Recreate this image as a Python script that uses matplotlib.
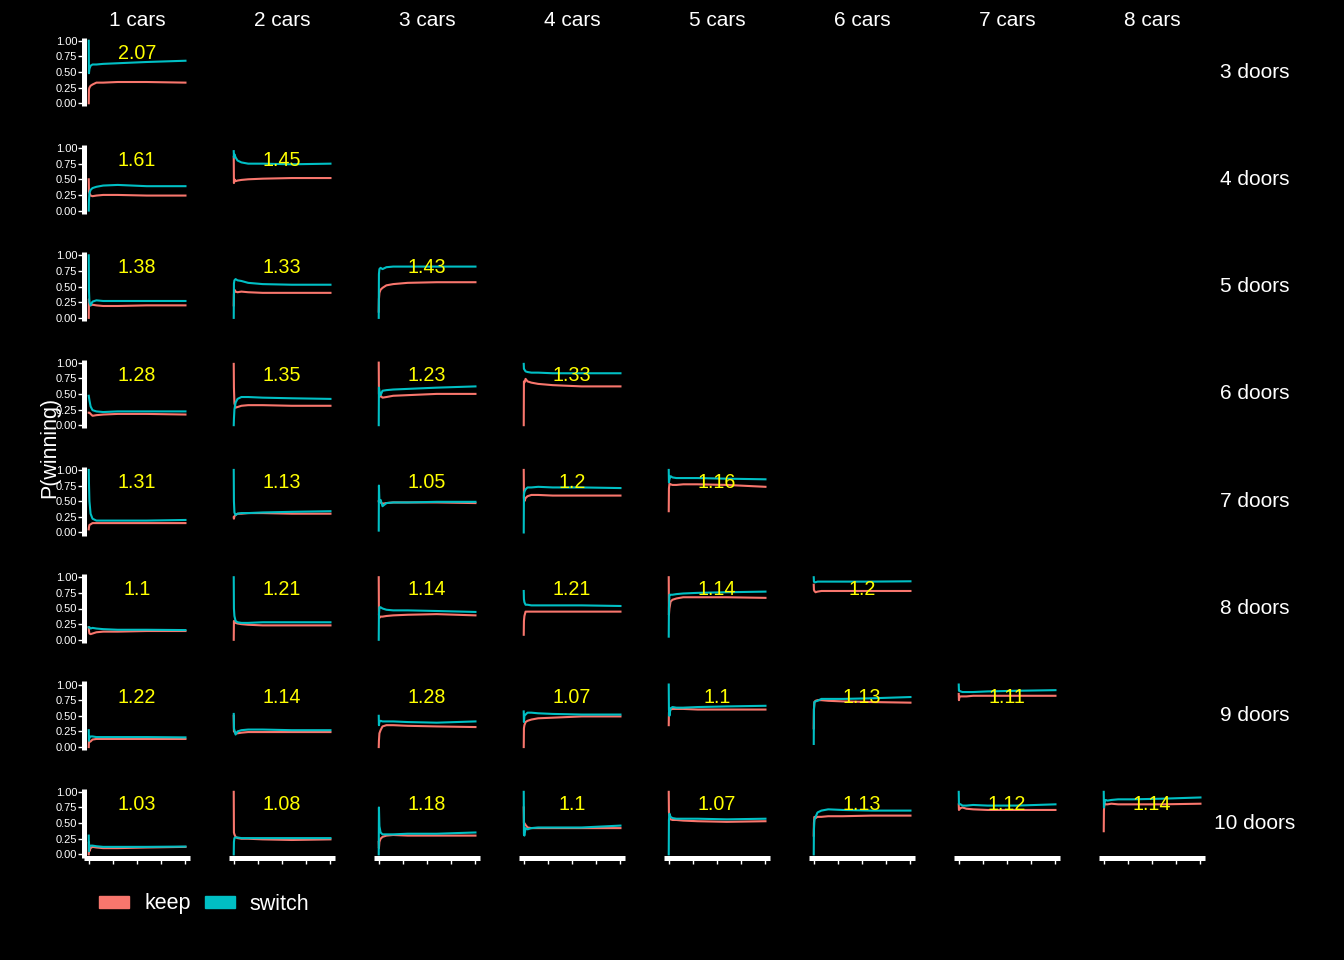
import matplotlib
matplotlib.use("Agg")
import matplotlib.pyplot as plt
from matplotlib.patches import Patch

plt.rcParams['font.family'] = ['Liberation Sans', 'DejaVu Sans']

# running share of wins, read at these trial numbers
TRIALS = [1, 3, 8, 20, 40, 80, 150, 300, 600, 1000]
DOORS = [3, 4, 5, 6, 7, 8, 9, 10]
CARS = [1, 2, 3, 4, 5, 6, 7, 8]
KEEP_COLOR = '#F8766D'
SWITCH_COLOR = '#00BFC4'

# ratio switch / keep, one per panel (cars = 1 .. doors-2)
ratio_3 = [2.07]
ratio_4 = [1.61, 1.45]
ratio_5 = [1.38, 1.33, 1.43]
ratio_6 = [1.28, 1.35, 1.23, 1.33]
ratio_7 = [1.31, 1.13, 1.05, 1.2, 1.16]
ratio_8 = [1.1, 1.21, 1.14, 1.21, 1.14, 1.2]
ratio_9 = [1.22, 1.14, 1.28, 1.07, 1.1, 1.13, 1.11]
ratio_10 = [1.03, 1.08, 1.18, 1.1, 1.07, 1.13, 1.12, 1.14]

keep_3 = [[0.0, 0.22, 0.25, 0.28, 0.30, 0.33, 0.33, 0.34, 0.34, 0.33]]
switch_3 = [[1.0, 0.48, 0.55, 0.60, 0.62, 0.62, 0.63, 0.64, 0.66, 0.68]]

keep_4 = [[0.50, 0.30, 0.28, 0.24, 0.23, 0.24, 0.25, 0.25, 0.24, 0.24],
          [0.86, 0.44, 0.50, 0.47, 0.48, 0.49, 0.50, 0.51, 0.52, 0.52]]
switch_4 = [[0.0, 0.15, 0.28, 0.33, 0.36, 0.38, 0.40, 0.41, 0.39, 0.39],
            [0.95, 0.85, 0.90, 0.85, 0.80, 0.77, 0.75, 0.75, 0.74, 0.75]]

keep_5 = [[0.0, 0.30, 0.22, 0.20, 0.21, 0.20, 0.19, 0.19, 0.20, 0.20],
          [0.20, 0.38, 0.45, 0.42, 0.41, 0.42, 0.41, 0.40, 0.40, 0.40],
          [0.10, 0.30, 0.40, 0.45, 0.48, 0.52, 0.54, 0.56, 0.57, 0.57]]
switch_5 = [[1.0, 0.45, 0.25, 0.20, 0.26, 0.28, 0.27, 0.27, 0.27, 0.27],
            [0.0, 0.55, 0.60, 0.62, 0.60, 0.59, 0.56, 0.54, 0.53, 0.53],
            [0.0, 0.70, 0.78, 0.80, 0.78, 0.81, 0.82, 0.82, 0.82, 0.82]]

keep_6 = [[0.20, 0.20, 0.20, 0.18, 0.15, 0.16, 0.17, 0.18, 0.18, 0.17],
          [0.98, 0.60, 0.35, 0.28, 0.29, 0.31, 0.32, 0.32, 0.31, 0.31],
          [1.0, 0.50, 0.45, 0.47, 0.44, 0.45, 0.47, 0.48, 0.50, 0.50],
          [0.0, 0.70, 0.68, 0.74, 0.70, 0.68, 0.66, 0.64, 0.62, 0.62]]
switch_6 = [[0.47, 0.45, 0.40, 0.30, 0.24, 0.22, 0.21, 0.22, 0.22, 0.22],
            [0.0, 0.10, 0.25, 0.36, 0.42, 0.45, 0.45, 0.44, 0.43, 0.42],
            [0.0, 0.60, 0.55, 0.48, 0.55, 0.56, 0.57, 0.58, 0.60, 0.62],
            [0.98, 0.90, 0.89, 0.86, 0.85, 0.84, 0.84, 0.83, 0.83, 0.83]]

keep_7 = [[0.05, 0.08, 0.12, 0.13, 0.15, 0.15, 0.15, 0.15, 0.15, 0.15],
          [0.24, 0.22, 0.26, 0.28, 0.30, 0.30, 0.31, 0.31, 0.30, 0.30],
          [0.50, 0.50, 0.50, 0.48, 0.46, 0.47, 0.48, 0.48, 0.48, 0.47],
          [1.0, 0.55, 0.50, 0.55, 0.58, 0.60, 0.60, 0.59, 0.59, 0.59],
          [0.34, 0.70, 0.78, 0.77, 0.76, 0.76, 0.77, 0.77, 0.76, 0.73]]
switch_7 = [[1.0, 0.80, 0.50, 0.30, 0.22, 0.19, 0.19, 0.19, 0.19, 0.20],
            [1.0, 0.50, 0.32, 0.28, 0.30, 0.31, 0.31, 0.32, 0.33, 0.34],
            [0.03, 0.75, 0.50, 0.52, 0.42, 0.47, 0.48, 0.48, 0.49, 0.49],
            [0.0, 0.60, 0.65, 0.69, 0.72, 0.72, 0.73, 0.72, 0.72, 0.71],
            [1.0, 0.80, 0.85, 0.90, 0.88, 0.87, 0.87, 0.87, 0.86, 0.85]]

keep_8 = [[0.20, 0.15, 0.10, 0.09, 0.10, 0.12, 0.13, 0.13, 0.14, 0.14],
          [0.0, 0.30, 0.30, 0.27, 0.26, 0.25, 0.24, 0.23, 0.23, 0.23],
          [1.0, 0.40, 0.35, 0.37, 0.37, 0.38, 0.39, 0.40, 0.41, 0.39],
          [0.08, 0.30, 0.38, 0.45, 0.45, 0.45, 0.45, 0.45, 0.45, 0.45],
          [1.0, 0.40, 0.50, 0.61, 0.64, 0.66, 0.68, 0.68, 0.68, 0.67],
          [0.88, 0.80, 0.78, 0.76, 0.77, 0.78, 0.78, 0.78, 0.78, 0.78]]
switch_8 = [[0.20, 0.20, 0.20, 0.18, 0.19, 0.18, 0.17, 0.16, 0.16, 0.155],
            [1.0, 0.50, 0.38, 0.30, 0.28, 0.27, 0.27, 0.28, 0.28, 0.28],
            [0.0, 0.40, 0.52, 0.52, 0.50, 0.48, 0.47, 0.47, 0.46, 0.445],
            [0.78, 0.65, 0.60, 0.56, 0.56, 0.55, 0.55, 0.55, 0.55, 0.54],
            [0.05, 0.50, 0.72, 0.72, 0.72, 0.73, 0.74, 0.75, 0.76, 0.77],
            [1.0, 0.93, 0.92, 0.92, 0.93, 0.93, 0.93, 0.93, 0.93, 0.935]]

keep_9 = [[0.0, 0.10, 0.08, 0.09, 0.12, 0.13, 0.13, 0.13, 0.13, 0.13],
          [0.50, 0.25, 0.25, 0.22, 0.22, 0.23, 0.24, 0.24, 0.24, 0.24],
          [0.0, 0.10, 0.22, 0.27, 0.33, 0.35, 0.35, 0.34, 0.33, 0.32],
          [0.0, 0.30, 0.35, 0.40, 0.42, 0.44, 0.46, 0.47, 0.49, 0.49],
          [0.35, 0.55, 0.60, 0.60, 0.61, 0.61, 0.61, 0.60, 0.60, 0.60],
          [0.30, 0.60, 0.72, 0.74, 0.75, 0.75, 0.74, 0.73, 0.72, 0.71],
          [0.85, 0.75, 0.80, 0.81, 0.81, 0.81, 0.82, 0.82, 0.82, 0.82]]
switch_9 = [[0.27, 0.10, 0.15, 0.17, 0.17, 0.16, 0.16, 0.16, 0.16, 0.155],
            [0.53, 0.30, 0.27, 0.20, 0.25, 0.27, 0.28, 0.28, 0.27, 0.27],
            [0.50, 0.35, 0.40, 0.42, 0.41, 0.41, 0.41, 0.40, 0.39, 0.41],
            [0.57, 0.40, 0.50, 0.52, 0.55, 0.55, 0.54, 0.53, 0.52, 0.52],
            [1.0, 0.60, 0.50, 0.62, 0.64, 0.63, 0.63, 0.64, 0.65, 0.66],
            [0.05, 0.60, 0.72, 0.73, 0.74, 0.77, 0.77, 0.77, 0.78, 0.80],
            [1.0, 0.90, 0.90, 0.89, 0.88, 0.88, 0.88, 0.89, 0.90, 0.91]]

keep_10 = [[0.0, 0.20, 0.05, 0.10, 0.12, 0.11, 0.10, 0.10, 0.11, 0.12],
           [1.0, 0.35, 0.32, 0.28, 0.26, 0.25, 0.25, 0.24, 0.23, 0.24],
           [0.20, 0.10, 0.20, 0.25, 0.28, 0.30, 0.31, 0.30, 0.30, 0.30],
           [0.75, 0.50, 0.50, 0.47, 0.43, 0.42, 0.42, 0.42, 0.42, 0.42],
           [1.0, 0.68, 0.62, 0.56, 0.55, 0.55, 0.54, 0.53, 0.52, 0.53],
           [0.30, 0.50, 0.60, 0.58, 0.60, 0.60, 0.61, 0.61, 0.62, 0.62],
           [0.80, 0.71, 0.72, 0.74, 0.75, 0.73, 0.72, 0.71, 0.71, 0.71],
           [0.37, 0.70, 0.82, 0.80, 0.80, 0.81, 0.80, 0.80, 0.80, 0.81]]
switch_10 = [[0.30, 0.05, 0.12, 0.14, 0.14, 0.13, 0.12, 0.12, 0.12, 0.125],
             [0.0, 0.20, 0.26, 0.27, 0.27, 0.26, 0.26, 0.26, 0.26, 0.26],
             [0.0, 0.75, 0.45, 0.35, 0.32, 0.32, 0.32, 0.33, 0.33, 0.35],
             [1.0, 0.32, 0.30, 0.42, 0.40, 0.42, 0.43, 0.43, 0.43, 0.46],
             [0.0, 0.55, 0.65, 0.60, 0.58, 0.57, 0.57, 0.57, 0.56, 0.57],
             [0.0, 0.40, 0.55, 0.60, 0.67, 0.70, 0.72, 0.71, 0.70, 0.70],
             [1.0, 0.82, 0.80, 0.80, 0.78, 0.78, 0.79, 0.78, 0.78, 0.80],
             [1.0, 0.75, 0.82, 0.87, 0.86, 0.87, 0.88, 0.88, 0.89, 0.91]]

KEEP = [keep_3, keep_4, keep_5, keep_6, keep_7, keep_8, keep_9, keep_10]
SWITCH = [switch_3, switch_4, switch_5, switch_6, switch_7, switch_8, switch_9, switch_10]
RATIO = [ratio_3, ratio_4, ratio_5, ratio_6, ratio_7, ratio_8, ratio_9, ratio_10]

# layout in pixels
W, H = 1344, 960
PANEL_X0, PANEL_DX, PANEL_W = 83.8, 145, 106.5
PANEL_Y0, PANEL_DY, PANEL_H = 37.6, 107.3, 68.8

fig = plt.figure(figsize=(W / 100, H / 100), dpi=100, facecolor='black')

last_row = len(DOORS) - 1
for i, doors in enumerate(DOORS):
    top = PANEL_Y0 + PANEL_DY * i
    for j, (keep, switch, r) in enumerate(zip(KEEP[i], SWITCH[i], RATIO[i])):
        left = PANEL_X0 + PANEL_DX * j
        ax = fig.add_axes([left / W, 1 - (top + PANEL_H) / H, PANEL_W / W, PANEL_H / H])
        ax.set_facecolor('black')
        ax.plot(TRIALS, keep, color=KEEP_COLOR, lw=1.5)
        ax.plot(TRIALS, switch, color=SWITCH_COLOR, lw=1.5)
        ax.text(500, 0.8, f"{r:g}", color='yellow', ha='center', va='center',
                fontsize=14.2, zorder=5)
        ax.set_xlim(-50, 1050)
        ax.set_ylim(-0.05, 1.05)
        for s in ['top', 'right']:
            ax.spines[s].set_visible(False)
        ax.spines['left'].set_visible(j == 0)
        ax.spines['bottom'].set_visible(i == last_row)
        for s in ['left', 'bottom']:
            ax.spines[s].set_color('white')
            ax.spines[s].set_linewidth(3.6)
            ax.spines[s].set_capstyle('butt')
        if j == 0:
            ax.set_yticks([0, 0.25, 0.5, 0.75, 1.0])
            ax.set_yticklabels(['0.00', '0.25', '0.50', '0.75', '1.00'])
            ax.tick_params(axis='y', colors='white', labelsize=8, length=4.2,
                           width=1, pad=0.5)
        else:
            ax.set_yticks([])
        if i == last_row:
            ax.set_xticks([0, 250, 500, 750, 1000])
            ax.set_xticklabels([])
            ax.tick_params(axis='x', colors='white', length=4.2, width=1)
        else:
            ax.set_xticks([])

# facet strips
for j, cars in enumerate(CARS):
    cx = PANEL_X0 + PANEL_DX * j + PANEL_W / 2
    fig.text(cx / W, 1 - 20 / H, f"{cars} cars", color='white', fontsize=15,
             ha='center', va='center')
for i, doors in enumerate(DOORS):
    cy = PANEL_Y0 + PANEL_DY * i + PANEL_H / 2
    fig.text(1255 / W, 1 - cy / H, f"{doors} doors", color='white', fontsize=15,
             ha='center', va='center')

fig.text(50 / W, 1 - 447 / H, "P(winning)", color='white', fontsize=15.5,
         rotation=90, ha='center', va='center')

handles = [Patch(color=KEEP_COLOR, label='keep'), Patch(color=SWITCH_COLOR, label='switch')]
leg = fig.legend(handles=handles, loc='center left', bbox_to_anchor=(99 / W, 1 - 904 / H),
                 ncol=2, frameon=False, fontsize=15.5, labelcolor='white',
                 handlelength=1.4, handleheight=0.5, handletextpad=0.7,
                 columnspacing=0.65, borderpad=0, borderaxespad=0)

fig.savefig('out.png', dpi=100, facecolor='black')
